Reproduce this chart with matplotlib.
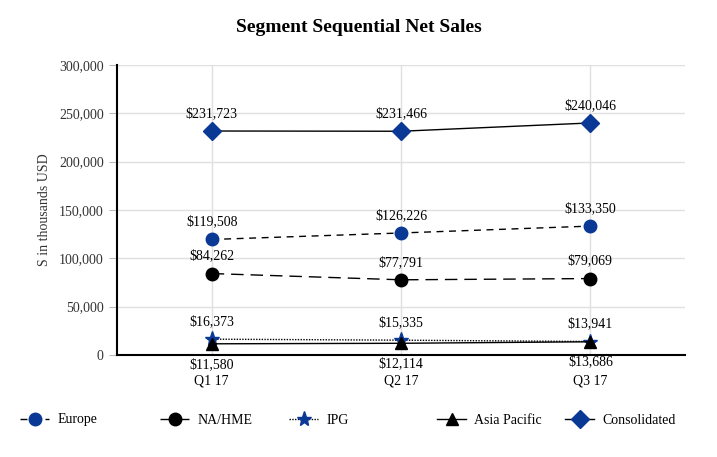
import matplotlib.pyplot as plt
from matplotlib.ticker import FuncFormatter, MultipleLocator

plt.rcParams['font.family'] = ['Liberation Serif', 'DejaVu Serif']

quarters = ["Q1 17", "Q2 17", "Q3 17"]
europe = [119508, 126226, 133350]
na_hme = [84262, 77791, 79069]
ipg = [16373, 15335, 13941]
asia_pacific = [11580, 12114, 13686]
consolidated = [231723, 231466, 240046]

blue = "#0a3895"

fig = plt.figure(figsize=(7.17, 4.57), dpi=100)
ax = fig.add_axes([117/717, 1 - 355/457, 568/717, 290/457])

x = list(range(len(quarters)))

series = [
    ("Europe", europe, dict(ls=(0, (5, 4)), marker="o", mfc=blue, mec=blue, ms=9)),
    ("NA/HME", na_hme, dict(ls=(0, (9, 5)), marker="o", mfc="black", mec="black", ms=9)),
    ("IPG", ipg, dict(ls=(0, (1, 1)), marker="*", mfc=blue, mec=blue, ms=11)),
    ("Asia Pacific", asia_pacific, dict(ls="-", marker="^", mfc="black", mec="black", ms=9)),
    ("Consolidated", consolidated, dict(ls="-", marker="D", mfc=blue, mec=blue, ms=9)),
]

handles = []
for name, vals, st in series:
    h, = ax.plot(x, vals, color="black", lw=1, label=name, zorder=3, **st)
    handles.append(h)
    below = name == "Asia Pacific"
    for xi, v in zip(x, vals):
        ax.annotate(f"${v:,}", (xi, v), xytext=(0, -10 if below else 8),
                    textcoords="offset points", ha="center",
                    va="top" if below else "bottom", fontsize=10, zorder=4)

ax.set_xlim(-0.5, 2.5)
ax.set_ylim(0, 300000)
ax.yaxis.set_major_locator(MultipleLocator(50000))
ax.yaxis.set_major_formatter(FuncFormatter(lambda v, p: f"{int(v):,}"))
ax.set_xticks(x)
ax.set_xticklabels(quarters)
ax.grid(True, color="#e0e0e0", lw=1, zorder=0)
ax.set_axisbelow(True)
for s in ["top", "right"]:
    ax.spines[s].set_visible(False)
ax.spines["left"].set_linewidth(1.5)
ax.spines["bottom"].set_linewidth(1.5)
ax.tick_params(axis="x", length=0, labelsize=10, pad=14)
ax.tick_params(axis="y", length=6, color="#bbbbbb", labelsize=10, labelcolor="#333333")
ax.set_ylabel("S in thousands USD", fontsize=10, color="#333333", labelpad=6)

fig.suptitle("Segment Sequential Net Sales", fontsize=14, fontweight="bold", y=1 - 28/457, va="center")

legend_x = [20, 160, 289, 437, 565]
for h, lx in zip(handles, legend_x):
    fig.legend(handles=[h], loc="center left", bbox_to_anchor=(lx/717, 1 - 420/457),
               frameon=False, fontsize=10, handlelength=2.1, borderaxespad=0,
               borderpad=0, handletextpad=0.6)

fig.savefig("out.png", dpi=100)
